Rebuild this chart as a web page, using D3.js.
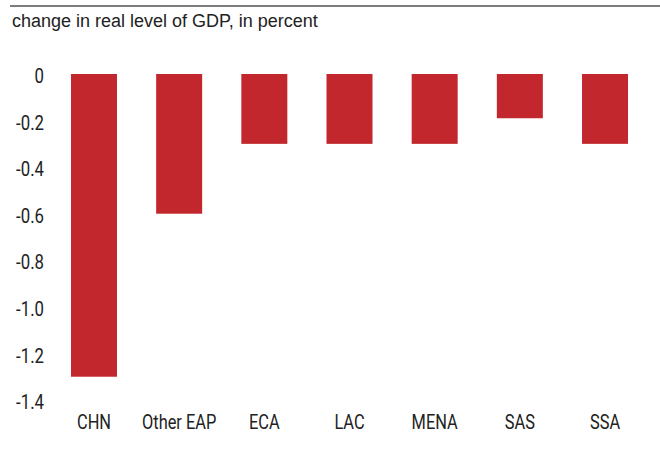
<!DOCTYPE html>
<html>
<head>
<meta charset="utf-8">
<script src="https://cdn.jsdelivr.net/npm/d3@7"></script>
<style>
body { margin: 0; background: #fff; }
</style>
</head>
<body>
<script>
const w = 660;
const h = 458;

const regions = ["CHN", "Other EAP", "ECA", "LAC", "MENA", "SAS", "SSA"];
const gdpChange = [-1.3, -0.6, -0.3, -0.3, -0.3, -0.19, -0.3];
const yTicks = [0, -0.2, -0.4, -0.6, -0.8, -1.0, -1.2, -1.4];

const condensed = "Roboto, sans-serif";

const svg = d3.select("body").append("svg").attr("width", w).attr("height", h);

// top rule
svg.append("line")
    .attr("x1", 10).attr("x2", w)
    .attr("y1", 6).attr("y2", 6)
    .attr("stroke", "#7d7d7d").attr("stroke-width", 2);

svg.append("text")
    .attr("x", 12)
    .attr("y", 27)
    .style("font-family", "'Liberation Sans', Arial, sans-serif")
    .style("font-size", "18px")
    .attr("fill", "#222")
    .text("change in real level of GDP, in percent");

const xScale = d3.scaleBand()
    .domain(regions)
    .range([51.4, 647.6])
    .paddingInner(0.46)
    .paddingOuter(0.23);

const yScale = d3.scaleLinear()
    .domain([0, -1.4])
    .range([74, 400]);

// bars
svg.selectAll("rect")
    .data(regions)
    .enter()
    .append("rect")
    .attr("x", d => xScale(d))
    .attr("width", xScale.bandwidth())
    .attr("y", (d, i) => yScale(Math.max(0, gdpChange[i])))
    .attr("height", (d, i) => Math.abs(yScale(gdpChange[i]) - yScale(0)))
    .attr("fill", "#c1272d");

// y axis labels
const yAxis = d3.axisLeft(yScale)
    .tickValues(yTicks)
    .tickSize(0)
    .tickPadding(0)
    .tickFormat(d => d === 0 ? "0" : d3.format(".1f")(d).replace("−", "-"));

const gy = svg.append("g")
    .attr("transform", "translate(44,0)")
    .call(yAxis);
gy.select(".domain").remove();
gy.selectAll("text")
    .attr("dy", "0.43em")
    .attr("transform", "scale(0.84,1)")
    .style("font-family", condensed)
    .style("font-size", "20px")
    .attr("fill", "#222");

// x axis labels
const xAxis = d3.axisBottom(xScale).tickSize(0).tickPadding(0);
const gx = svg.append("g")
    .attr("transform", "translate(0,415)")
    .call(xAxis);
gx.select(".domain").remove();
gx.selectAll("text")
    .attr("transform", "scale(0.82,1)")
    .style("font-family", condensed)
    .style("font-size", "20px")
    .attr("fill", "#222");
</script>
</body>
</html>
